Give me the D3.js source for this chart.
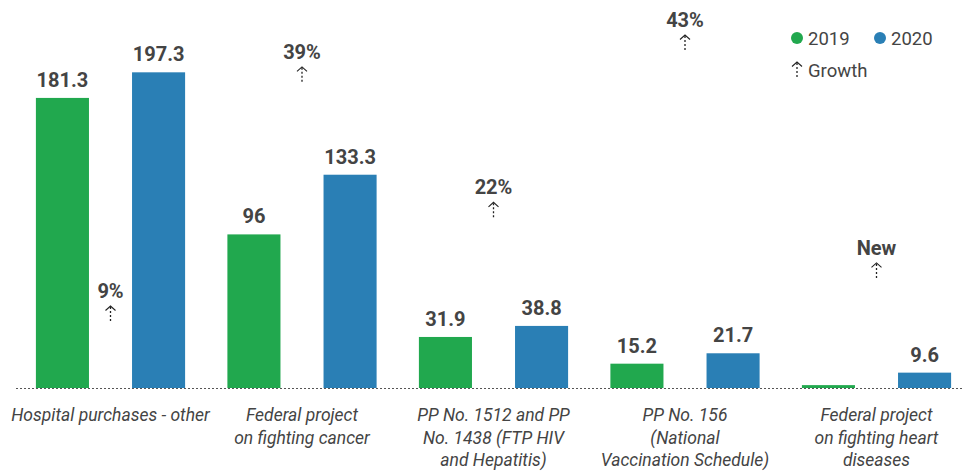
<!DOCTYPE html>
<html>
<head>
<meta charset="utf-8">
<script src="https://cdn.jsdelivr.net/npm/d3@7"></script>
<style>
  body { margin: 0; background: #fff; }
  svg { font-family: Roboto, "Noto Sans", sans-serif; display: block; }
</style>
</head>
<body>
<svg id="chart" width="963" height="472"></svg>
<script>
const categories = [
  ["Hospital purchases - other"],
  ["Federal project", "on fighting cancer"],
  ["PP No. 1512 and PP", "No. 1438 (FTP HIV", "and Hepatitis)"],
  ["PP No. 156", "(National", "Vaccination Schedule)"],
  ["Federal project", "on fighting heart", "diseases"]
];
const series = ["2019", "2020"];
const values2019 = [181.3, 96, 31.9, 15.2, 1.8];
const values2020 = [197.3, 133.3, 38.8, 21.7, 9.6];
const labels2019 = ["181.3", "96", "31.9", "15.2", ""];
const labels2020 = ["197.3", "133.3", "38.8", "21.7", "9.6"];
const growthLabels = ["9%", "39%", "22%", "43%", "New"];
const growthPos = [9, 39, 22, 43, 14.4];   // where the growth markers sit

const width = 963;
const height = 472;
const baseY = 388;
const colors = {"2019": "#21a84e", "2020": "#2a7fb5"};
const textColor = "#444";

const svg = d3.select("#chart");

const x = d3.scaleBand()
  .domain(d3.range(categories.length))
  .range([14.75, 972.25]);

const xs = d3.scaleBand()
  .domain(series)
  .range([0, x.bandwidth()])
  .paddingInner(0.448)
  .paddingOuter(0.22);

const y = d3.scaleLinear()
  .domain([0, 200])
  .range([baseY, 68]);

const yGrowth = d3.scaleLinear()
  .domain([0, 50])
  .range([377.7, -20.8]);

const rows = categories.map((c, i) => ({
  i,
  lines: c,
  bars: [
    {key: "2019", value: values2019[i], label: labels2019[i]},
    {key: "2020", value: values2020[i], label: labels2020[i]}
  ],
  growth: growthLabels[i],
  gpos: growthPos[i]
}));

// baseline
svg.append("line")
  .attr("x1", 16).attr("x2", width)
  .attr("y1", baseY + 0.5).attr("y2", baseY + 0.5)
  .attr("stroke", "#555")
  .attr("stroke-width", 1.2)
  .attr("stroke-dasharray", "2,2");

const groups = svg.selectAll(".group")
  .data(rows)
  .enter()
  .append("g")
  .classed("group", true)
  .attr("transform", d => `translate(${x(d.i)},0)`);

groups.selectAll("rect")
  .data(d => d.bars)
  .enter()
  .append("rect")
  .attr("x", d => xs(d.key))
  .attr("width", xs.bandwidth())
  .attr("y", d => y(d.value))
  .attr("height", d => baseY - y(d.value))
  .attr("fill", d => colors[d.key]);

groups.selectAll(".val")
  .data(d => d.bars)
  .enter()
  .append("text")
  .classed("val", true)
  .attr("x", d => xs(d.key) + xs.bandwidth() / 2)
  .attr("y", d => y(d.value) - 11)
  .attr("text-anchor", "middle")
  .attr("font-size", 20)
  .attr("font-weight", 700)
  .attr("fill", textColor)
  .text(d => d.label);

function arrow(sel) {
  sel.append("path")
    .attr("d", "M-5,4.5 L0,0 L5,4.5")
    .attr("fill", "none")
    .attr("stroke", "#222")
    .attr("stroke-width", 1.1);
  sel.append("line")
    .attr("x1", 0).attr("x2", 0)
    .attr("y1", 1).attr("y2", 17)
    .attr("stroke", "#222")
    .attr("stroke-width", 1.3)
    .attr("stroke-dasharray", "2,2");
}

// growth markers
const gm = groups.append("g")
  .attr("transform", d => `translate(${x.bandwidth() / 2},${yGrowth(d.gpos)})`);
gm.append("text")
  .attr("y", -8)
  .attr("text-anchor", "middle")
  .attr("font-size", 20)
  .attr("font-weight", 700)
  .attr("fill", textColor)
  .text(d => d.growth);
gm.append("g").call(arrow);

// category labels
groups.append("text")
  .attr("text-anchor", "middle")
  .attr("font-size", 17.5)
  .attr("font-style", "italic")
  .attr("fill", textColor)
  .selectAll("tspan")
  .data(d => d.lines)
  .enter()
  .append("tspan")
  .attr("x", x.bandwidth() / 2)
  .attr("y", (d, i) => 421 + i * 22.5)
  .text(d => d);

// legend
const legend = svg.append("g").attr("transform", "translate(797,38)");
const li = legend.selectAll(".li")
  .data(series)
  .enter()
  .append("g")
  .attr("transform", (d, i) => `translate(${i * 83},0)`);
li.append("circle")
  .attr("r", 6)
  .attr("fill", d => colors[d]);
li.append("text")
  .attr("x", 11)
  .attr("y", 6.5)
  .attr("font-size", 18.5)
  .attr("fill", textColor)
  .text(d => d);

const lg = legend.append("g").attr("transform", "translate(0,24)");
lg.call(arrow);
lg.append("text")
  .attr("x", 11)
  .attr("y", 15)
  .attr("font-size", 18.5)
  .attr("fill", textColor)
  .text("Growth");
</script>
</body>
</html>
